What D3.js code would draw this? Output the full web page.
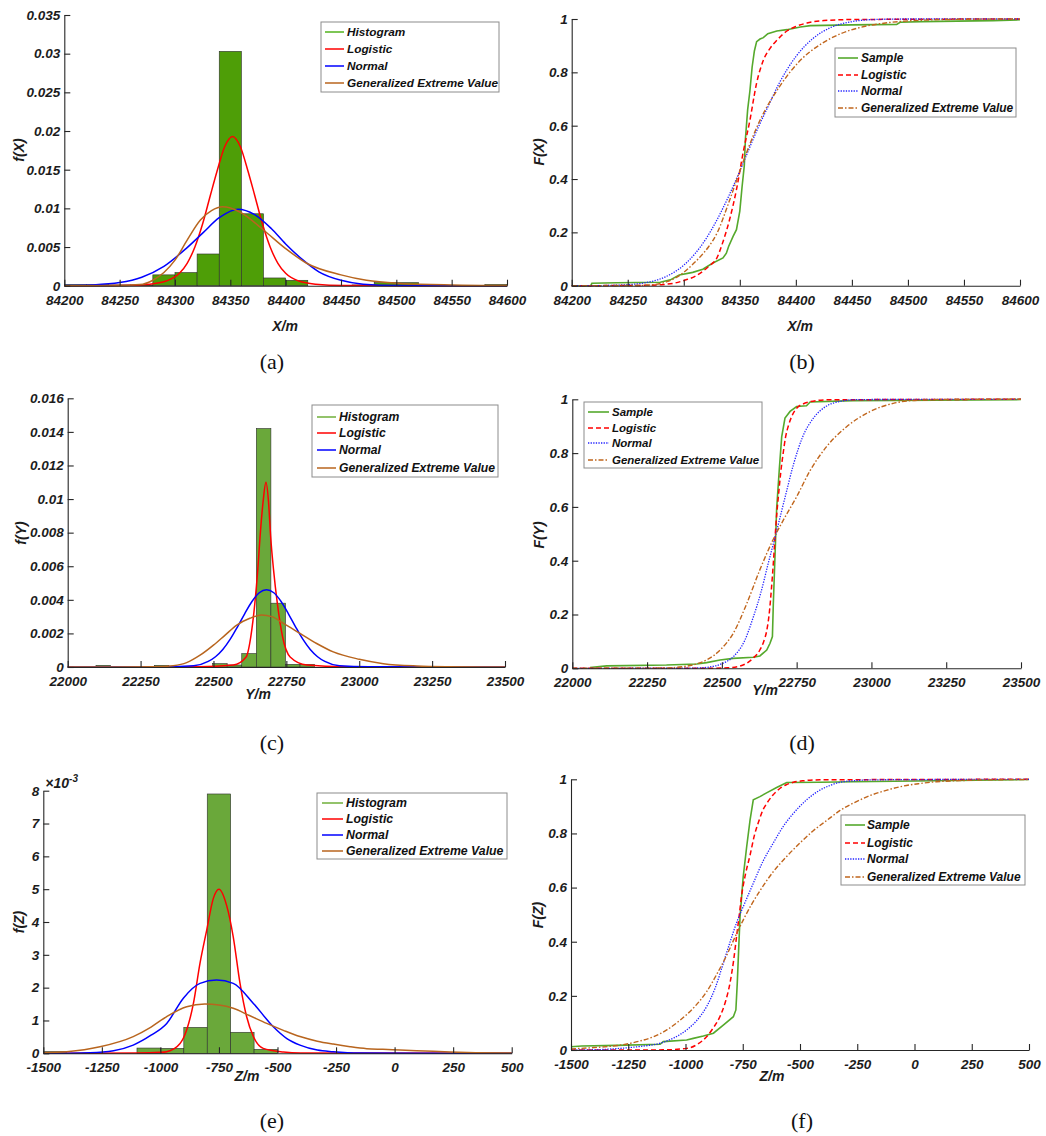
<!DOCTYPE html>
<html>
<head>
<meta charset="utf-8">
<script src="https://cdn.jsdelivr.net/npm/d3@7"></script>
<style>
    body { margin: 0; background: #fff; }
    svg text { font-family: "Liberation Sans", Arial, Helvetica, sans-serif; }
    .axis path, .axis line { stroke: #262626; stroke-width: 1.1; }
    .axis text { font-size: 13.5px; font-style: italic; font-weight: bold; fill: #1c1c1c; }
    .title { font-size: 14px; font-style: italic; font-weight: bold; fill: #1c1c1c; }
    .legend text { font-style: italic; font-weight: bold; fill: #111; }
    .letter { font-family: "Liberation Serif", "Times New Roman", serif !important; font-size: 22px; fill: #111; }
</style>
</head>
<body>
<svg id="fig" width="1046" height="1136"></svg>
<script>
// ---- tick values
const xTicksX = [84200, 84250, 84300, 84350, 84400, 84450, 84500, 84550, 84600];
const xTicksY = [22000, 22250, 22500, 22750, 23000, 23250, 23500];
const xTicksZ = [-1500, -1250, -1000, -750, -500, -250, 0, 250, 500];
const pdfTicksX = [0, 0.005, 0.01, 0.015, 0.02, 0.025, 0.03, 0.035];
const pdfTicksY = [0, 0.002, 0.004, 0.006, 0.008, 0.01, 0.012, 0.014, 0.016];
const pdfTicksZ = [0, 0.001, 0.002, 0.003, 0.004, 0.005, 0.006, 0.007, 0.008];
const cdfTicks = [0, 0.2, 0.4, 0.6, 0.8, 1];

const pdfNames = ["Histogram", "Logistic", "Normal", "Generalized Extreme Value"];
const cdfNames = ["Sample", "Logistic", "Normal", "Generalized Extreme Value"];

// ---- X direction
const histStartX = 84200, histBinX = 20;
const histX = [0.00015, 0.00015, 0.0001, 0.0001, 0.0014, 0.0017, 0.0041, 0.0303, 0.0093, 0.0010,
    0.0007, 0, 0, 0.0001, 0.0004, 0.0004, 0.0001, 0, 0, 0.00015];
const logisticPdfX = [[84200, 0], [84252, 0.00003], [84277, 0.0002], [84292, 0.0006], [84304, 0.0016],
    [84311, 0.0029], [84318, 0.005], [84325, 0.008], [84332, 0.0117], [84338, 0.0148], [84345, 0.018],
    [84352, 0.0193], [84359, 0.018], [84366, 0.0148], [84372, 0.0117], [84379, 0.008], [84386, 0.005],
    [84393, 0.0029], [84400, 0.0016], [84412, 0.0006], [84427, 0.0002], [84452, 0.00003], [84600, 0]];
const normalPdfX = [[84200, 0.00002], [84225, 0.0001], [84250, 0.0004], [84270, 0.0011], [84290, 0.0025],
    [84310, 0.0048], [84325, 0.0068], [84340, 0.0088], [84357, 0.0099], [84372, 0.0092], [84387, 0.0074],
    [84400, 0.0054], [84415, 0.0034], [84430, 0.0018], [84450, 0.0007], [84470, 0.0002], [84500, 0.00003],
    [84600, 0]];
const gevPdfX = [[84200, 0], [84250, 0.00003], [84262, 0.0001], [84271, 0.0002], [84280, 0.0007],
    [84290, 0.0017], [84300, 0.0033], [84311, 0.0059], [84323, 0.0085], [84333, 0.0097], [84343, 0.0102],
    [84359, 0.0095], [84380, 0.0072], [84400, 0.0048], [84419, 0.0029], [84450, 0.0014], [84473, 0.0007],
    [84504, 0.0003], [84550, 0.0001], [84600, 0.00003]];
const sampleCdfX = [[84200, 0], [84217, 0], [84218, 0.009], [84240, 0.011], [84279, 0.013], [84288, 0.022],
    [84296, 0.04], [84308, 0.05], [84317, 0.062], [84326, 0.085], [84335, 0.104], [84338, 0.122],
    [84340, 0.147], [84344, 0.185], [84347, 0.21], [84350, 0.28], [84352, 0.37], [84354, 0.45],
    [84355, 0.55], [84357, 0.66], [84359, 0.73], [84361, 0.82], [84363, 0.88], [84365, 0.915],
    [84368, 0.925], [84371, 0.93], [84375, 0.945], [84383, 0.955], [84392, 0.96], [84404, 0.97],
    [84413, 0.975], [84450, 0.978], [84490, 0.98], [84493, 0.988], [84512, 0.99], [84576, 0.994],
    [84600, 0.997]];
const logisticCdfX = [[84200, 0], [84260, 0.001], [84280, 0.004], [84292, 0.01], [84302, 0.022],
    [84310, 0.035], [84317, 0.054], [84323, 0.075], [84329, 0.1], [84335, 0.165], [84341, 0.25],
    [84347, 0.36], [84353, 0.5], [84359, 0.62], [84365, 0.76], [84371, 0.845], [84377, 0.89],
    [84383, 0.92], [84392, 0.955], [84400, 0.972], [84410, 0.985], [84425, 0.994], [84450, 0.998],
    [84600, 1]];
const normalCdfX = [[84200, 0], [84225, 0.0005], [84250, 0.004], [84267, 0.012], [84280, 0.027],
    [84290, 0.047], [84300, 0.077], [84310, 0.12], [84320, 0.177], [84330, 0.25], [84340, 0.335],
    [84350, 0.43], [84357, 0.5], [84365, 0.58], [84375, 0.67], [84385, 0.758], [84400, 0.859],
    [84415, 0.926], [84430, 0.966], [84450, 0.99], [84470, 0.998], [84500, 1], [84600, 1]];
const gevCdfX = [[84200, 0], [84260, 0.001], [84275, 0.005], [84285, 0.015], [84293, 0.03],
    [84300, 0.05], [84308, 0.08], [84315, 0.11], [84322, 0.145], [84330, 0.2], [84340, 0.31],
    [84350, 0.43], [84357, 0.51], [84368, 0.62], [84386, 0.75], [84404, 0.845], [84422, 0.905],
    [84440, 0.945], [84457, 0.968], [84480, 0.985], [84510, 0.995], [84550, 0.999], [84600, 1]];

// ---- Y direction
const histStartY = 22097, histBinY = 50;
const histY = [0.0001, 0, 0, 0, 0.0001, 0, 0, 0, 0.0002, 0.00012, 0.0008, 0.0142, 0.0038, 0.00016, 0.00016];
const logisticPdfY = [[22000, 0], [22450, 0.00001], [22568, 0.00012], [22612, 0.0006], [22628, 0.0018],
    [22642, 0.0038], [22652, 0.0058], [22660, 0.0078], [22670, 0.0098], [22680, 0.011], [22689, 0.0098],
    [22696, 0.0078], [22706, 0.0058], [22719, 0.0038], [22737, 0.0018], [22763, 0.0006], [22820, 0.00012],
    [22950, 0.00001], [23500, 0]];
const normalPdfY = [[22000, 0], [22332, 0.00001], [22432, 0.00007], [22482, 0.00033], [22507, 0.00061],
    [22532, 0.00104], [22557, 0.00164], [22582, 0.00238], [22607, 0.00317], [22632, 0.0039],
    [22657, 0.00442], [22682, 0.0046], [22707, 0.00442], [22732, 0.0039], [22757, 0.00317],
    [22782, 0.00238], [22807, 0.00164], [22832, 0.00104], [22857, 0.00061], [22882, 0.00033],
    [22932, 0.00007], [23032, 0.00001], [23500, 0]];
const gevPdfY = [[22000, 0], [22300, 0.00001], [22362, 0.00008], [22408, 0.00026], [22454, 0.0007],
    [22500, 0.0013], [22540, 0.0019], [22580, 0.0025], [22625, 0.0029], [22665, 0.0031], [22700, 0.003],
    [22740, 0.0026], [22797, 0.002], [22854, 0.0014], [22911, 0.0009], [23000, 0.00046], [23083, 0.0002],
    [23197, 0.00006], [23300, 0.00002], [23500, 0]];
const sampleCdfY = [[22059, 0.003], [22115, 0.009], [22315, 0.012], [22416, 0.016], [22449, 0.021],
    [22494, 0.031], [22538, 0.037], [22605, 0.041], [22627, 0.046], [22650, 0.068], [22661, 0.093],
    [22669, 0.118], [22672, 0.24], [22678, 0.43], [22683, 0.59], [22692, 0.74], [22700, 0.86],
    [22711, 0.93], [22728, 0.955], [22750, 0.973], [22783, 0.976], [22795, 0.99], [22939, 0.995],
    [23500, 0.999]];
const logisticCdfY = [[22000, 0], [22450, 0], [22520, 0.002], [22560, 0.008], [22583, 0.019],
    [22605, 0.038], [22627, 0.068], [22640, 0.1], [22650, 0.14], [22658, 0.2], [22666, 0.3],
    [22672, 0.39], [22678, 0.49], [22684, 0.58], [22689, 0.64], [22697, 0.73], [22705, 0.8],
    [22713, 0.86], [22722, 0.9], [22735, 0.94], [22750, 0.967], [22770, 0.982], [22795, 0.991],
    [22850, 0.998], [23500, 1]];
const normalCdfY = [[22000, 0], [22380, 0.0003], [22420, 0.0013], [22460, 0.005], [22500, 0.017],
    [22540, 0.045], [22575, 0.1], [22605, 0.19], [22630, 0.28], [22655, 0.39], [22683, 0.51],
    [22710, 0.63], [22740, 0.76], [22770, 0.86], [22806, 0.93], [22850, 0.975], [22900, 0.993],
    [22950, 0.999], [23500, 1]];
const gevCdfY = [[22000, 0], [22300, 0.001], [22382, 0.008], [22420, 0.018], [22449, 0.031],
    [22494, 0.068], [22538, 0.13], [22583, 0.24], [22627, 0.366], [22672, 0.48], [22705, 0.55],
    [22750, 0.638], [22795, 0.735], [22850, 0.824], [22917, 0.898], [22995, 0.954], [23073, 0.985],
    [23162, 0.997], [23300, 1], [23500, 1]];

// ---- Z direction
const histStartZ = -1500, histBinZ = 100;
const histZ = [0.00005, 0, 0, 0, 0.00016, 0.00015, 0.00079, 0.0079, 0.00064, 0.00012];
const logisticPdfZ = [[-1500, 0], [-1100, 0.00001], [-1000, 0.00003], [-973, 0.00005], [-916, 0.0003],
    [-888, 0.00071], [-859, 0.00152], [-831, 0.00274], [-802, 0.00376], [-774, 0.00472], [-750, 0.005],
    [-717, 0.0045], [-689, 0.00355], [-660, 0.00213], [-632, 0.00112], [-603, 0.00051], [-561, 0.00015],
    [-475, 0.00004], [-400, 0.00001], [500, 0]];
const normalPdfZ = [[-1500, 0], [-1300, 0.00002], [-1200, 0.00008], [-1116, 0.00025], [-1040, 0.00055],
    [-973, 0.00091], [-902, 0.00168], [-831, 0.00213], [-760, 0.00223], [-689, 0.00213], [-603, 0.00152],
    [-518, 0.00081], [-460, 0.00045], [-404, 0.00025], [-330, 0.0001], [-262, 0.00005], [-150, 0.00001],
    [500, 0]];
const gevPdfZ = [[-1500, 0.00002], [-1400, 0.00005], [-1258, 0.0002], [-1116, 0.00051], [-1040, 0.0008],
    [-973, 0.00112], [-888, 0.00142], [-810, 0.0015], [-750, 0.00147], [-689, 0.00137], [-620, 0.00115],
    [-546, 0.00091], [-475, 0.0007], [-404, 0.00051], [-330, 0.00037], [-262, 0.00028], [-190, 0.0002],
    [-119, 0.00014], [-50, 0.00012], [23, 0.0001], [130, 0.00007], [237, 0.00004], [350, 0.00002],
    [500, 0.00001]];
const sampleCdfZ = [[-1500, 0.012], [-1453, 0.015], [-1300, 0.017], [-1111, 0.021], [-1097, 0.031],
    [-995, 0.037], [-966, 0.043], [-922, 0.052], [-878, 0.062], [-835, 0.092], [-791, 0.123],
    [-780, 0.148], [-774, 0.246], [-768, 0.369], [-762, 0.49], [-748, 0.64], [-733, 0.75], [-718, 0.85],
    [-704, 0.924], [-675, 0.936], [-646, 0.95], [-602, 0.97], [-558, 0.988], [-413, 0.989],
    [-267, 0.991], [500, 0.999]];
const logisticCdfZ = [[-1500, 0], [-1100, 0.0005], [-995, 0.006], [-950, 0.02], [-908, 0.049],
    [-880, 0.08], [-850, 0.123], [-825, 0.18], [-806, 0.246], [-790, 0.33], [-777, 0.419], [-765, 0.5],
    [-755, 0.57], [-738, 0.65], [-718, 0.72], [-700, 0.79], [-680, 0.845], [-660, 0.89], [-646, 0.91],
    [-620, 0.94], [-587, 0.967], [-560, 0.98], [-529, 0.989], [-480, 0.995], [-413, 0.998], [500, 1]];
const normalCdfZ = [[-1500, 0.0005], [-1400, 0.001], [-1286, 0.006], [-1200, 0.013], [-1111, 0.025],
    [-1050, 0.045], [-995, 0.074], [-950, 0.11], [-908, 0.16], [-870, 0.23], [-835, 0.32], [-805, 0.4],
    [-777, 0.47], [-740, 0.545], [-704, 0.616], [-660, 0.7], [-617, 0.764], [-570, 0.83], [-529, 0.874],
    [-470, 0.925], [-413, 0.96], [-370, 0.977], [-325, 0.989], [-260, 0.995], [-194, 0.998], [500, 1]];
const gevCdfZ = [[-1500, 0.004], [-1400, 0.009], [-1286, 0.018], [-1200, 0.033], [-1140, 0.049],
    [-1080, 0.075], [-1024, 0.11], [-960, 0.16], [-908, 0.215], [-860, 0.285], [-820, 0.35],
    [-785, 0.415], [-748, 0.48], [-710, 0.54], [-675, 0.588], [-620, 0.655], [-558, 0.715],
    [-500, 0.765], [-442, 0.81], [-380, 0.85], [-325, 0.885], [-260, 0.915], [-194, 0.94],
    [-120, 0.96], [-49, 0.975], [20, 0.984], [97, 0.991], [200, 0.995], [315, 0.998], [500, 0.999]];

// ---- styles
const RED = "#ff0000", BLUE = "#0000ff", BROWN = "#b8651e";
const pdfStyle = (green) => [
    {color: green, dash: null, width: 1.6},
    {color: RED, dash: null, width: 1.5},
    {color: BLUE, dash: null, width: 1.5},
    {color: BROWN, dash: null, width: 1.5}
];
const cdfStyle = [
    {color: "#55a92c", dash: null, width: 1.6},
    {color: RED, dash: "5,3", width: 1.5},
    {color: "#2222ff", dash: "1.3,1.3", width: 1.3},
    {color: "#c0651c", dash: "5,2,1.5,2", width: 1.4}
];

const svg = d3.select("#fig");

const fmtPlain = d => String(+d.toFixed(6));

const panels = [
    {letter: "(a)", lpos: [272, 369], left: 64.3, right: 507, top: 15, bottom: 285.7,
        xDomain: [84200, 84600], yDomain: [0, 0.035], xTicks: xTicksX, yTicks: pdfTicksX, yFmt: fmtPlain,
        yTitle: "f(X)", yTitlePos: [19, 150], xTitle: "X/m", xTitlePos: [285, 331],
        hist: histX, histStart: histStartX, binW: histBinX, barColor: "#4e9e07",
        series: [logisticPdfX, normalPdfX, gevPdfX], names: pdfNames, styles: pdfStyle("#5cb82a"),
        legend: {x0: 321, y0: 22, x1: 499, y1: 92, rows: [32, 49, 66, 83], lx0: 325, lx1: 344, tx: 347, fs: 11.8}},
    {letter: "(b)", lpos: [802, 369], left: 571.7, right: 1020, top: 19, bottom: 285.7,
        xDomain: [84200, 84600], yDomain: [0, 1], xTicks: xTicksX, yTicks: cdfTicks, yFmt: fmtPlain,
        yTitle: "F(X)", yTitlePos: [539, 152], xTitle: "X/m", xTitlePos: [800, 331],
        sample: sampleCdfX, series: [logisticCdfX, normalCdfX, gevCdfX], names: cdfNames, styles: cdfStyle,
        legend: {x0: 835, y0: 48, x1: 1016, y1: 117, rows: [58, 75, 91, 108], lx0: 838, lx1: 858, tx: 861, fs: 11.9}},
    {letter: "(c)", lpos: [272, 750], left: 67.7, right: 505, top: 398.3, bottom: 667,
        xDomain: [22000, 23500], yDomain: [0, 0.016], xTicks: xTicksY, yTicks: pdfTicksY, yFmt: fmtPlain,
        yTitle: "f(Y)", yTitlePos: [21, 533], xTitle: "Y/m", xTitlePos: [258, 699],
        hist: histY, histStart: histStartY, binW: histBinY, barColor: "#6aa83a",
        series: [logisticPdfY, normalPdfY, gevPdfY], names: pdfNames, styles: pdfStyle("#78b446"),
        legend: {x0: 312, y0: 405, x1: 498, y1: 477, rows: [417, 433, 450, 468], lx0: 317, lx1: 336, tx: 339, fs: 12.2}},
    {letter: "(d)", lpos: [802, 750], left: 572.3, right: 1021, top: 399.3, bottom: 668.3,
        xDomain: [22000, 23500], yDomain: [0, 1], xTicks: xTicksY, yTicks: cdfTicks, yFmt: fmtPlain,
        yTitle: "F(Y)", yTitlePos: [539, 535], xTitle: "Y/m", xTitlePos: [765, 695],
        sample: sampleCdfY, series: [logisticCdfY, normalCdfY, gevCdfY], names: cdfNames, styles: cdfStyle,
        legend: {x0: 584, y0: 402, x1: 762, y1: 468, rows: [412, 428, 443, 460], lx0: 588, lx1: 609, tx: 612, fs: 11.5}},
    {letter: "(e)", lpos: [272, 1128], left: 43.3, right: 511.7, top: 790.7, bottom: 1053.3,
        xDomain: [-1500, 500], yDomain: [0, 0.008], xTicks: xTicksZ, yTicks: pdfTicksZ,
        yFmt: d => String(Math.round(d * 1000)), exponent: true,
        yTitle: "f(Z)", yTitlePos: [19, 922], xTitle: "Z/m", xTitlePos: [247, 1081],
        hist: histZ, histStart: histStartZ, binW: histBinZ, barColor: "#6aa83a",
        series: [logisticPdfZ, normalPdfZ, gevPdfZ], names: pdfNames, styles: pdfStyle("#78b446"),
        legend: {x0: 317, y0: 793, x1: 507, y1: 859, rows: [803, 819, 835, 851], lx0: 322, lx1: 343, tx: 346, fs: 12.3}},
    {letter: "(f)", lpos: [802, 1128], left: 571, right: 1029, top: 779.3, bottom: 1050,
        xDomain: [-1500, 500], yDomain: [0, 1], xTicks: xTicksZ, yTicks: cdfTicks, yFmt: fmtPlain,
        yTitle: "F(Z)", yTitlePos: [538, 915], xTitle: "Z/m", xTitlePos: [772, 1081],
        sample: sampleCdfZ, series: [logisticCdfZ, normalCdfZ, gevCdfZ], names: cdfNames, styles: cdfStyle,
        legend: {x0: 841, y0: 815, x1: 1025, y1: 885, rows: [825, 843, 859, 877], lx0: 845, lx1: 865, tx: 867, fs: 12}}
];

function styled(sel, st) {
    sel.attr("fill", "none").attr("stroke", st.color).attr("stroke-width", st.width);
    if (st.dash) sel.attr("stroke-dasharray", st.dash);
    return sel;
}

function drawPanel(p) {
    const g = svg.append("g");
    const x = d3.scaleLinear().domain(p.xDomain).range([p.left, p.right]);
    const y = d3.scaleLinear().domain(p.yDomain).range([p.bottom, p.top]);

    // histogram bars
    if (p.hist) {
        const bins = p.hist.map((v, i) => ({x0: p.histStart + i * p.binW, x1: p.histStart + (i + 1) * p.binW, v: v}))
            .filter(d => d.v > 0);
        g.selectAll("rect.bar").data(bins).join("rect")
            .attr("class", "bar")
            .attr("x", d => x(d.x0))
            .attr("width", d => x(d.x1) - x(d.x0))
            .attr("y", d => y(d.v))
            .attr("height", d => y(0) - y(d.v))
            .attr("fill", p.barColor)
            .attr("stroke", "#2e2e2e")
            .attr("stroke-width", 0.6);
    }

    const line = d3.line().x(d => x(d[0])).y(d => y(d[1]));

    if (p.sample) {
        styled(g.append("path").datum(p.sample).attr("d", line.curve(d3.curveLinear)), p.styles[0]);
    }
    p.series.forEach((s, i) => {
        styled(g.append("path").datum(s).attr("d", line.curve(d3.curveMonotoneX)), p.styles[i + 1]);
    });

    // axes, ticks pointing inward
    g.append("g").attr("class", "axis")
        .attr("transform", `translate(0,${p.bottom})`)
        .call(d3.axisBottom(x).tickValues(p.xTicks).tickFormat(d => String(d))
            .tickSizeInner(-6).tickSizeOuter(0).tickPadding(9.5));
    g.append("g").attr("class", "axis")
        .attr("transform", `translate(${p.left},0)`)
        .call(d3.axisLeft(y).tickValues(p.yTicks).tickFormat(p.yFmt)
            .tickSizeInner(-6).tickSizeOuter(0).tickPadding(4));
    g.selectAll(".axis").attr("font-family", null).attr("font-size", null);

    if (p.exponent) {
        const t = g.append("text").attr("class", "title")
            .attr("x", p.left + 2).attr("y", p.top - 3);
        t.append("tspan").text("\u00d710");
        t.append("tspan").attr("dy", -6).style("font-size", "10px").text("-3");
    }

    // titles
    g.append("text").attr("class", "title")
        .attr("transform", `translate(${p.yTitlePos[0]},${p.yTitlePos[1]}) rotate(-90)`)
        .attr("text-anchor", "middle").attr("dy", "0.35em")
        .text(p.yTitle);
    g.append("text").attr("class", "title")
        .attr("x", p.xTitlePos[0]).attr("y", p.xTitlePos[1])
        .attr("text-anchor", "middle")
        .text(p.xTitle);

    // legend
    const L = p.legend;
    const lg = g.append("g").attr("class", "legend");
    lg.append("rect")
        .attr("x", L.x0).attr("y", L.y0)
        .attr("width", L.x1 - L.x0).attr("height", L.y1 - L.y0)
        .attr("fill", "#fff").attr("stroke", "#8c8c8c").attr("stroke-width", 1);
    p.names.forEach((name, i) => {
        styled(lg.append("line")
            .attr("x1", L.lx0).attr("x2", L.lx1)
            .attr("y1", L.rows[i]).attr("y2", L.rows[i]), p.styles[i]);
        lg.append("text")
            .attr("x", L.tx).attr("y", L.rows[i]).attr("dy", "0.36em")
            .style("font-size", L.fs + "px")
            .text(name);
    });

    // panel letter
    svg.append("text").attr("class", "letter")
        .attr("x", p.lpos[0]).attr("y", p.lpos[1])
        .attr("text-anchor", "middle")
        .text(p.letter);
}

panels.forEach(drawPanel);
</script>
</body>
</html>
